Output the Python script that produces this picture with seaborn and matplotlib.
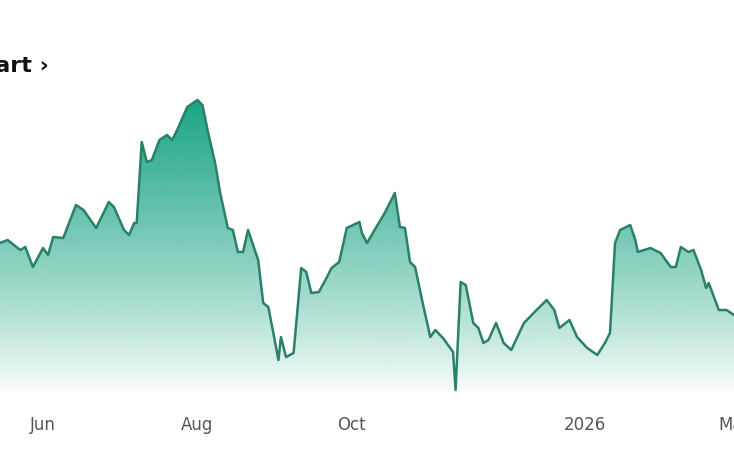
import numpy as np
import pandas as pd
import matplotlib
matplotlib.use('Agg')
import matplotlib.pyplot as plt
import matplotlib.dates as mdates
from matplotlib.colors import LinearSegmentedColormap
import seaborn as sns

# Series (day, value)
dates = [
    '2025-05-15', '2025-05-18', '2025-05-23', '2025-05-25', '2025-05-28', '2025-06-01',
    '2025-06-03', '2025-06-05', '2025-06-09', '2025-06-14', '2025-06-17', '2025-06-22',
    '2025-06-27', '2025-06-29', '2025-07-03', '2025-07-05', '2025-07-07', '2025-07-08',
    '2025-07-10', '2025-07-12', '2025-07-14', '2025-07-17', '2025-07-20', '2025-07-22',
    '2025-07-24', '2025-07-28', '2025-08-01', '2025-08-03', '2025-08-05', '2025-08-08',
    '2025-08-10', '2025-08-13', '2025-08-15', '2025-08-17', '2025-08-19', '2025-08-21',
    '2025-08-23', '2025-08-25', '2025-08-27', '2025-08-29', '2025-08-31', '2025-09-02',
    '2025-09-03', '2025-09-05', '2025-09-08', '2025-09-11', '2025-09-13', '2025-09-15',
    '2025-09-18', '2025-09-21', '2025-09-23', '2025-09-26', '2025-09-29', '2025-10-04',
    '2025-10-05', '2025-10-07', '2025-10-10', '2025-10-14', '2025-10-18', '2025-10-20',
    '2025-10-22', '2025-10-24', '2025-10-26', '2025-10-29', '2025-11-01', '2025-11-03',
    '2025-11-06', '2025-11-10', '2025-11-11', '2025-11-13', '2025-11-15', '2025-11-18',
    '2025-11-20', '2025-11-22', '2025-11-24', '2025-11-27', '2025-11-30', '2025-12-03',
    '2025-12-08', '2025-12-13', '2025-12-17', '2025-12-20', '2025-12-22', '2025-12-26',
    '2025-12-29', '2026-01-02', '2026-01-06', '2026-01-09', '2026-01-11', '2026-01-13',
    '2026-01-15', '2026-01-19', '2026-01-21', '2026-01-22', '2026-01-27', '2026-01-31',
    '2026-02-04', '2026-02-06', '2026-02-08', '2026-02-11', '2026-02-13', '2026-02-16',
    '2026-02-18', '2026-02-19', '2026-02-23', '2026-02-26', '2026-03-01',
]
values = [
    15.7, 16.0, 15.0, 15.3, 13.3, 15.2,
    14.5, 16.3, 16.2, 19.5, 19.0, 17.2,
    19.8, 19.3, 17.0, 16.5, 17.7, 17.7,
    25.8, 23.8, 24.0, 26.0, 26.5, 26.0,
    27.0, 29.3, 30.0, 29.5, 27.0, 23.7,
    20.7, 17.2, 17.0, 14.8, 14.8, 17.0,
    15.5, 14.0, 9.7, 9.3, 6.7, 4.0,
    6.3, 4.3, 4.7, 13.2, 12.8, 10.7,
    10.8, 12.2, 13.2, 13.8, 17.2, 17.8,
    16.7, 15.7, 17.0, 18.7, 20.7, 17.3,
    17.2, 13.8, 13.3, 9.7, 6.3, 7.0,
    6.2, 4.8, 1.0, 11.8, 11.5, 7.7,
    7.2, 5.7, 6.0, 7.7, 5.7, 5.0,
    7.7, 9.0, 10.0, 9.0, 7.2, 8.0,
    6.3, 5.2, 4.5, 5.7, 6.7, 15.7,
    17.0, 17.5, 16.0, 14.8, 15.2, 14.7,
    13.3, 13.3, 15.3, 14.8, 15.0, 13.0,
    11.2, 11.7, 9.0, 9.0, 8.5,
]

tick_dates = ['2025-06-01', '2025-08-01', '2025-10-01', '2026-01-01', '2026-03-01']
tick_labels = ['Jun', 'Aug', 'Oct', '2026', 'Mar']

df = pd.DataFrame({'date': pd.to_datetime(dates), 'value': values})

line_color = '#2a8069'
fill_color = '#17a381'

sns.set_style('white')
plt.rcParams['font.family'] = ['DejaVu Sans']

fig = plt.figure(figsize=(7.34, 4.58), dpi=100)
ax = fig.add_axes([0, 1 - 395 / 458, 1, (395 - 85) / 458])

sns.lineplot(data=df, x='date', y='value', ax=ax, color=line_color, linewidth=1.8, zorder=3)

ymin, ymax = 0.5, 31.5
x0 = mdates.date2num(pd.Timestamp('2025-05-15'))
x1 = mdates.date2num(pd.Timestamp('2026-03-01'))

# gradient fill below the line, clipped to the area polygon
poly = ax.fill_between(df['date'], df['value'], ymin, color='none', lw=0)
base = matplotlib.colors.to_rgb(fill_color)
grad_vals = np.linspace(0, 1, 256) ** 0.85
cmap = LinearSegmentedColormap.from_list('fade', [(*base, 0.0), (*base, 1.0)])
img = ax.imshow(grad_vals.reshape(-1, 1), cmap=cmap, aspect='auto', origin='lower',
                extent=[x0, x1, ymin, 30.5], zorder=1)
img.set_clip_path(poly.get_paths()[0], transform=ax.transData)

ax.set_xlim(x0, x1)
ax.set_ylim(ymin, ymax)
ax.set_xticks(pd.to_datetime(tick_dates))
ax.set_xticklabels(tick_labels)
ax.tick_params(axis='x', length=0, pad=15, labelsize=12, labelcolor='#555555')
ax.set_yticks([])
ax.set_xlabel('')
ax.set_ylabel('')
for s in ax.spines.values():
    s.set_visible(False)

fig.text(-0.05, 1 - 72 / 458, 'Chart \u203a', fontsize=16, fontweight='bold',
         color='#111111', va='baseline', ha='left')

fig.savefig('out.png', dpi=100)
